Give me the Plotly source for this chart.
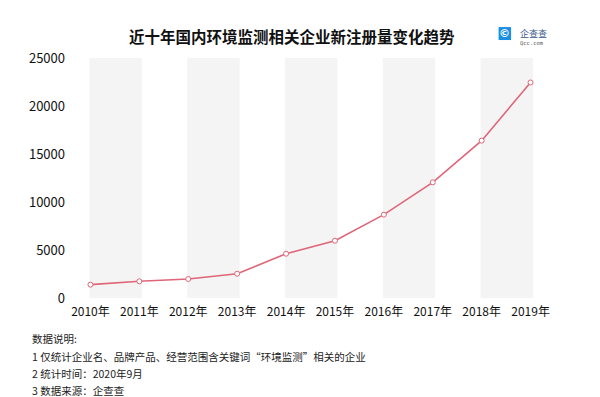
import plotly.graph_objects as go

years = ["2010年", "2011年", "2012年", "2013年", "2014年", "2015年", "2016年", "2017年", "2018年", "2019年"]
counts = [1390, 1740, 1980, 2530, 4610, 5970, 8680, 12050, 16390, 22450]
y_ticks = [0, 5000, 10000, 15000, 20000, 25000]
y_tick_labels = ["0", "5000", "10000", "15000", "20000", "25000"]

title_text = "近十年国内环境监测相关企业新注册量变化趋势"
notes = [
    "数据说明:",
    "1 仅统计企业名、品牌产品、经营范围含关键词“环境监测”相关的企业",
    "2 统计时间：2020年9月",
    "3 数据来源：企查查",
]

FONT = "Noto Sans CJK SC, Noto Sans, sans-serif"
LINE = "#de6678"

x_idx = list(range(len(years)))

def px(xp):
    return (xp - 57.5) / 490

def py(yp):
    return (290.5 - yp) / 240.5

fig = go.Figure()
fig.add_trace(go.Scatter(
    x=x_idx, y=counts, mode="lines+markers",
    line=dict(color=LINE, width=1.6),
    marker=dict(symbol="circle", size=5, color="white", line=dict(color=LINE, width=1)),
    showlegend=False, hoverinfo="x+y",
))

shapes = []
for i in x_idx:
    if i % 2 == 0:
        shapes.append(dict(type="rect", xref="x", yref="y", x0=i - 0.02, x1=i + 1.05,
                           y0=y_ticks[0], y1=y_ticks[-1], fillcolor="#f4f4f4",
                           line=dict(width=0), layer="below"))

# logo icon
shapes.append(dict(type="rect", xref="paper", yref="paper", x0=px(491), x1=px(503.5),
                   y0=py(32), y1=py(19), fillcolor="#1a8fe3", line=dict(width=0)))

annotations = [
    dict(text="<b>" + title_text + "</b>", xref="paper", yref="paper",
         x=px(284), y=py(27.5), xanchor="center", yanchor="middle",
         showarrow=False, font=dict(family=FONT, size=15.5, color="#111111")),
    dict(text="<b>©</b>", xref="paper", yref="paper", x=px(497.2), y=py(25.5),
         xanchor="center", yanchor="middle", showarrow=False,
         font=dict(family="DejaVu Sans", size=11, color="white")),
    dict(text="企查查", xref="paper", yref="paper", x=px(510), y=py(25),
         xanchor="left", yanchor="middle", showarrow=False,
         font=dict(family=FONT, size=9, color="#3a5a8a")),
    dict(text="Qcc.com", xref="paper", yref="paper", x=px(510), y=py(34.5),
         xanchor="left", yanchor="middle", showarrow=False,
         font=dict(family="DejaVu Sans Mono", size=5.5, color="#555555")),
]

note_y = [331, 349, 366, 383]
for t, yy in zip(notes, note_y):
    annotations.append(dict(text=t, xref="paper", yref="paper", x=px(21), y=py(yy),
                            xanchor="left", yanchor="middle", showarrow=False,
                            font=dict(family=FONT, size=10.5, color="#222222")))

fig.update_layout(
    width=600, height=397,
    margin=dict(l=57.5, r=52.5, t=50, b=106.5),
    paper_bgcolor="white", plot_bgcolor="white",
    shapes=shapes,
    annotations=annotations,
    font=dict(family=FONT, color="#111111"),
    xaxis=dict(range=[-0.5, 9.5], tickmode="array", tickvals=x_idx, ticktext=years,
               showgrid=False, zeroline=False, showline=False, ticks="",
               ticklabelstandoff=5,
               tickfont=dict(family=FONT, size=12, color="#111111")),
    yaxis=dict(range=[y_ticks[0], y_ticks[-1]], tickmode="array", tickvals=y_ticks,
               ticktext=y_tick_labels,
               showgrid=False, zeroline=False, showline=False, ticks="",
               tickfont=dict(family=FONT, size=13, color="#111111")),
)

fig.write_html("out.html")
